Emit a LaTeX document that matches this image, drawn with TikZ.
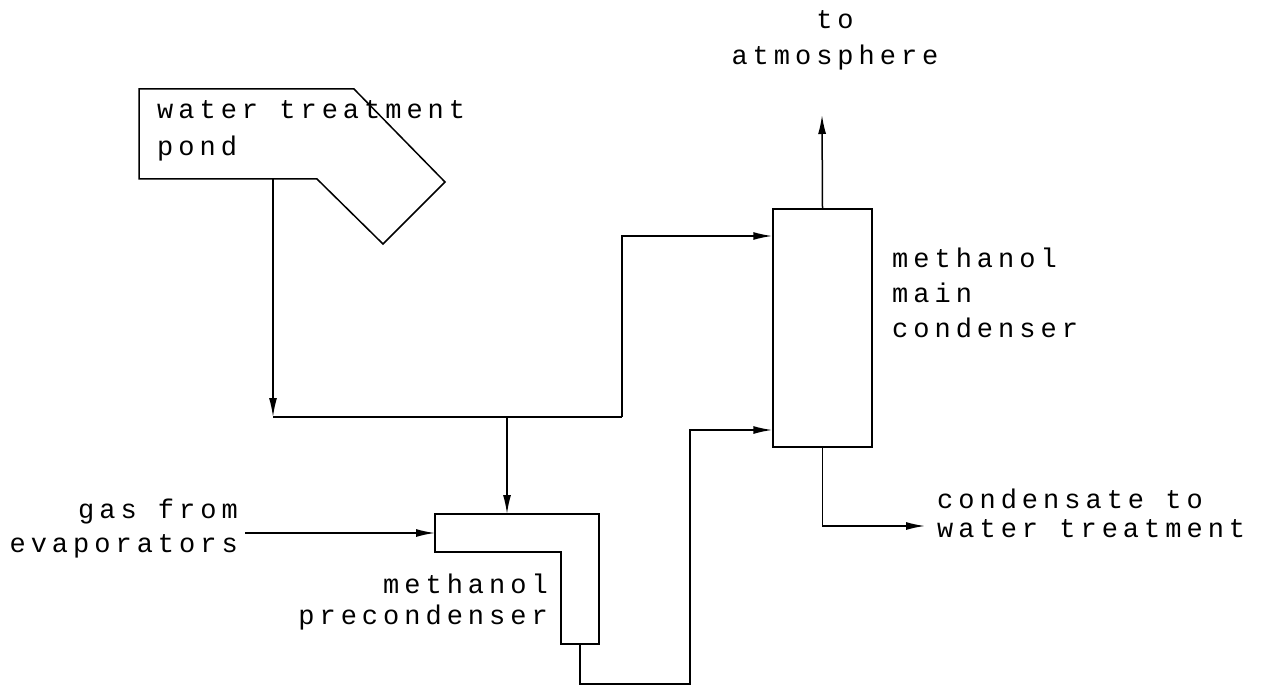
\documentclass[tikz,border=0pt]{standalone}
\usepackage{fontspec}
\newfontfamily\cadfont[LetterSpace=18.5]{Liberation Mono}
\usetikzlibrary{arrows.meta}
\tikzset{
  line/.style={line width=1.5pt, line join=miter},
  flow/.style={line, -{Latex[length=19pt,width=8pt]}},
  lbl/.style={inner sep=0pt, font=\cadfont\fontsize{27}{35}\selectfont},
}
\begin{document}
\begin{tikzpicture}[x=1pt,y=-1pt]
\useasboundingbox (0,0) rectangle (1269,687);
% water treatment pond
\draw[line] (139,89) -- (354,89) -- (445,182) -- (383,244) -- (317,179) -- (139,179) -- cycle;
\coordinate (pondout) at (273,179);
\node[lbl, anchor=base west, align=left, font=\cadfont\fontsize{27}{37}\selectfont] (pondlbl) at (157,156) {water treatment\\pond};
% main condenser
\node[draw, line width=1.5pt, inner sep=0pt, minimum width=99pt, minimum height=238pt] (main) at (822.5,328) {};
\node[lbl, anchor=base west, align=left] (mainlbl) at (892,337) {methanol\\main\\condenser};
% precondenser
\draw[line] (435,514) -- (599,514) -- (599,644) -- (561,644) -- (561,552) -- (435,552) -- cycle;
\coordinate (preIn) at (435,533);
\coordinate (preTop) at (507,514);
\coordinate (preOut) at (580,644);
\node[lbl, anchor=base east, align=right, font=\cadfont\fontsize{27}{31}\selectfont] (prelbl) at (548,624) {methanol\\precondenser};
% labels
\node[lbl, anchor=base, align=center, font=\cadfont\fontsize{27}{36}\selectfont] (atmlbl) at (835,65) {to\\atmosphere};
\node[lbl, anchor=base east, align=right, font=\cadfont\fontsize{27}{34}\selectfont] (gaslbl) at (238,552) {gas from\\evaporators};
\node[lbl, anchor=base west, align=left, font=\cadfont\fontsize{27}{29}\selectfont] (condlbl) at (937,537) {condensate to\\water treatment};
% junction points
\coordinate (j1) at (273,417);
\coordinate (j2) at (507,417);
\coordinate (j3) at (622,417);
\coordinate (gasIn) at (245,533);
\coordinate (atm) at (822,115);
\coordinate (condOut) at (925,526);
% connectors
\draw[flow] (pondout) -- (j1);
\draw[line] (j1) -- (j3);
\draw[flow] (j3) |- (main.west |- 0,236);
\draw[flow] (j2) -- (preTop);
\draw[flow] (gasIn) -- (preIn);
\draw[flow] (preOut) |- (690,684) |- (main.west |- 0,430);
\draw[flow] (main.north) -- (atm);
\draw[flow] (main.south) |- (condOut);
\end{tikzpicture}
\end{document}
